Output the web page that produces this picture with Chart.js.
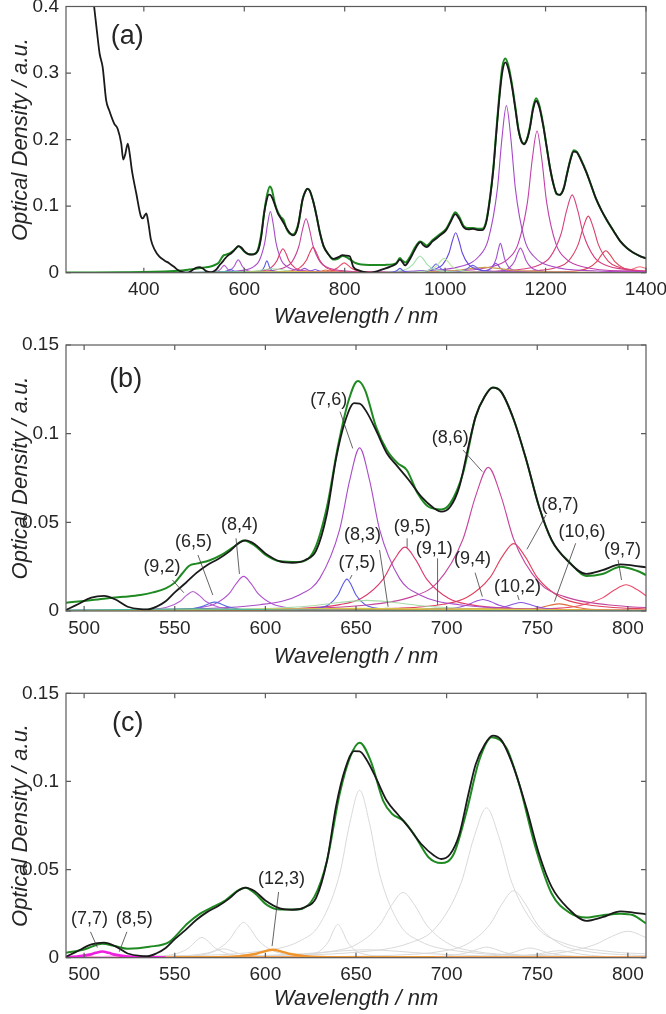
<!DOCTYPE html>
<html>
<head>
<meta charset="utf-8">
<script src="https://cdn.jsdelivr.net/npm/chart.js@4"></script>
<style>
  html, body { margin: 0; background: #fff; }
  #wrap { position: relative; width: 666px; height: 1014px; overflow: hidden; }
  canvas { position: absolute; left: 0; }
</style>
</head>
<body>
<div id="wrap">
  <canvas id="chartA" width="666" height="335" style="top:0px"></canvas>
  <canvas id="chartB" width="666" height="340" style="top:330px"></canvas>
  <canvas id="chartC" width="666" height="354" style="top:660px"></canvas>
</div>
<script>
// ---- ticks ----
const wlTicksA = [400, 600, 800, 1000, 1200, 1400];
const odTicksA = [0, 0.1, 0.2, 0.3, 0.4];
const wlTicksB = [500, 550, 600, 650, 700, 750, 800];
const odTicksB = [0, 0.05, 0.1, 0.15];

// ---- measured spectrum (black) ----
const blackUV = [[290,0.47],[301,0.40],[307,0.36],[312,0.329],[318,0.309],[325,0.259],[331,0.244],[341,0.224],[348,0.216],[355,0.194],[359,0.17],[363,0.178],[368,0.194],[372,0.178],[376,0.155],[385,0.119],[394,0.085],[398,0.0815],[402,0.0865],[405,0.089],[409,0.075],[414,0.05],[422,0.034],[431,0.024],[441,0.0185],[451,0.014],[460,0.009],[468,0.004],[476,0.0012],[483,0.0002]];
const blackVis = [[490,0.0006],[495,0.003],[504,0.0075],[511,0.0085],[517,0.0066],[524,0.0024],[531,0.001],[535,0.0009],[540,0.0025],[545,0.0055],[550,0.0105],[556,0.0158],[562,0.0215],[568,0.026],[574,0.0293],[580,0.0335],[585,0.038],[589,0.0398],[594,0.0378],[600,0.0325],[608,0.028],[615,0.0272],[622,0.0288],[628,0.034],[634,0.055],[639,0.086],[644,0.107],[649,0.1172],[652,0.117],[656,0.112],[661,0.102],[667,0.089],[673,0.0814],[679,0.074],[686,0.0645],[693,0.058],[697,0.056],[702,0.0588],[707,0.070],[712,0.0927],[716,0.1096],[721,0.121],[725.5,0.126],[730,0.1237],[737,0.108],[744,0.085],[751,0.0588],[758,0.040],[767,0.028],[777,0.0209],[786,0.023],[796,0.0263],[803,0.0256],[810,0.0246]];
const blackNIR = [[817,0.009],[828,0.0035],[838,0.0012],[848,0.0002],[858,0.001],[868,0.003],[880,0.006],[892,0.0095],[902,0.013],[910,0.0195],[915,0.016],[920,0.011],[928,0.018],[938,0.032],[946,0.043],[951,0.046],[957,0.041],[963,0.0385],[975,0.047],[990,0.056],[1002,0.064],[1012,0.078],[1020,0.088],[1028,0.081],[1037,0.068],[1046,0.065],[1056,0.066],[1066,0.064],[1074,0.064],[1082,0.076],[1090,0.115],[1096,0.155],[1102,0.21],[1108,0.262],[1114,0.302],[1120,0.316],[1126,0.306],[1133,0.28],[1140,0.245],[1146,0.214],[1152,0.197],[1157,0.193],[1163,0.2],[1169,0.218],[1175,0.245],[1181,0.258],[1187,0.25],[1195,0.222],[1202,0.19],[1209,0.157],[1216,0.132],[1222,0.119],[1228,0.117],[1236,0.126],[1243,0.149],[1250,0.171],[1256,0.182],[1262,0.181],[1270,0.17],[1281,0.151],[1290,0.133],[1300,0.112],[1311,0.094],[1322,0.079],[1336,0.062],[1349,0.047],[1362,0.037],[1375,0.03],[1388,0.025],[1400,0.0215]];

// ---- fitted sum (green) ----
const greenUV = [[245,0.0002],[300,0.0003],[360,0.0006],[420,0.0013],[460,0.0026],[480,0.0038]];
const greenB = [[490,0.0047],[500,0.0057],[512,0.0071],[522,0.008],[531,0.009],[538,0.0105],[545,0.0128],[550,0.016],[554,0.021],[558,0.0255],[562,0.0267],[569,0.0285],[576,0.0318],[583,0.0365],[588,0.0397],[594,0.037],[601,0.031],[608,0.028],[618,0.0276],[627,0.0344],[634,0.0588],[640,0.0927],[646,0.119],[651,0.1297],[655,0.1246],[661,0.104],[667,0.0908],[673,0.0833],[678,0.0795],[684,0.0664],[690,0.0588],[697,0.0573],[702,0.0607],[709,0.0776],[716,0.1096],[721,0.121],[725.5,0.126],[730,0.1237],[737,0.108],[744,0.085],[751,0.0588],[758,0.0397],[768,0.0273],[777,0.0197],[786,0.0209],[796,0.025],[805,0.0227],[810,0.0203]];
const greenNIR = [[818,0.016],[828,0.013],[840,0.0118],[860,0.0115],[880,0.0117],[895,0.0125],[903,0.0145],[910,0.022],[915,0.018],[921,0.0155],[930,0.024],[940,0.038],[950,0.047],[957,0.044],[963,0.041],[975,0.049],[990,0.058],[1002,0.066],[1012,0.08],[1020,0.091],[1028,0.084],[1037,0.07],[1046,0.067],[1056,0.067],[1066,0.066],[1074,0.066],[1082,0.078],[1090,0.117],[1096,0.158],[1102,0.214],[1108,0.268],[1114,0.31],[1120,0.322],[1126,0.311],[1133,0.284],[1140,0.248],[1146,0.216],[1152,0.198],[1157,0.194],[1163,0.201],[1169,0.22],[1175,0.248],[1181,0.262],[1187,0.253],[1195,0.224],[1202,0.19],[1209,0.157],[1216,0.132],[1222,0.118],[1228,0.117],[1236,0.127],[1243,0.15],[1250,0.172],[1256,0.184],[1262,0.182],[1270,0.171],[1281,0.152],[1290,0.133],[1300,0.112],[1311,0.094],[1322,0.079],[1336,0.062],[1349,0.047],[1362,0.037],[1375,0.03],[1388,0.025],[1400,0.0215]];
const greenC = [[490,0.0028],[500,0.0047],[510,0.0079],[517,0.0066],[524,0.0051],[536,0.0062],[547,0.009],[557,0.0194],[564,0.025],[571,0.0288],[578,0.0326],[585,0.0382],[589,0.0397],[594,0.0367],[601,0.0298],[608,0.0273],[618,0.0273],[627,0.0345],[634,0.055],[641,0.093],[647,0.1145],[652,0.122],[658,0.112],[665,0.089],[670,0.0815],[676,0.0778],[682,0.070],[690,0.057],[697,0.0537],[704,0.059],[711,0.083],[718,0.112],[725,0.125],[733,0.119],[740,0.0985],[749,0.0627],[758,0.0363],[768,0.0254],[777,0.0228],[786,0.0241],[796,0.025],[803,0.0241],[810,0.0194]];

// ---- fitted components, 490-810 nm (panels a, b) ----
const p92 = [[490,0.0001],[525,0.00042],[539,0.0011],[546,0.0022],[553,0.0055],[556.5,0.0088],[560,0.011],[563.5,0.0088],[567,0.0055],[574,0.0022],[581,0.0011],[595,0.00042],[630,0.0001],[810,0.00001]];
const p65 = [[502,0.00005],[537,0.0002],[551,0.0005],[558,0.001],[565,0.0025],[568.5,0.004],[572,0.005],[575.5,0.004],[579,0.0025],[586,0.001],[593,0.0005],[607,0.0002],[642,0.00005]];
const p84 = [[490,0.0001],[508,0.0002],[548,0.00075],[564,0.00195],[572,0.0039],[580,0.00975],[584,0.0156],[588,0.0195],[592,0.0156],[596,0.00975],[604,0.0039],[612,0.00195],[628,0.00075],[668,0.0002],[810,0.00004]];
const p75 = [[595,0.00018],[620,0.00069],[630,0.0018],[635,0.0036],[640,0.009],[642.5,0.0144],[645,0.018],[647.5,0.0144],[650,0.009],[655,0.0036],[660,0.0018],[670,0.00069],[695,0.00018]];
const p76 = [[245,0.00007],[400,0.00017],[490,0.00042],[542,0.00091],[597,0.00354],[619,0.0092],[630,0.0184],[641,0.046],[646.5,0.0736],[652,0.092],[657.5,0.0736],[663,0.046],[674,0.0184],[685,0.0092],[707,0.00354],[762,0.00091],[810,0.00044],[900,0.00018],[1100,0.00006]];
const p83 = [[607,0.00006],[631,0.00015],[643,0.0003],[655,0.00075],[661,0.0012],[667,0.0015],[673,0.0012],[679,0.00075],[691,0.0003],[703,0.00015],[727,0.00006]];
const p95 = [[490,0.00015],[557,0.00036],[617,0.00138],[641,0.0036],[653,0.0072],[665,0.018],[671,0.0288],[677,0.036],[683,0.0288],[689,0.018],[701,0.0072],[713,0.0036],[737,0.00138],[797,0.00036],[900,0.0001]];
const p91 = [[644,0.00006],[664,0.00015],[674,0.0003],[684,0.00075],[689,0.0012],[694,0.0015],[699,0.0012],[704,0.00075],[714,0.0003],[724,0.00015],[744,0.00006]];
const p86 = [[490,0.00029],[583,0.0008],[653,0.00312],[681,0.0081],[695,0.0162],[709,0.0405],[716,0.0648],[723,0.081],[730,0.0648],[737,0.0405],[751,0.0162],[765,0.0081],[793,0.00312],[863,0.0008],[1000,0.0002]];
const p94 = [[630,0.00008],[675,0.00025],[693,0.00065],[702,0.0013],[711,0.00325],[715.5,0.0052],[720,0.0065],[724.5,0.0052],[729,0.00325],[738,0.0013],[747,0.00065],[765,0.00025],[810,0.00008]];
const p87 = [[490,0.0001],[607,0.00038],[672,0.00146],[698,0.0038],[711,0.0076],[724,0.019],[730.5,0.0304],[737,0.038],[743.5,0.0304],[750,0.019],[763,0.0076],[776,0.0038],[802,0.00146],[867,0.00038],[1000,0.0001]];
const p102 = [[696,0.00018],[714,0.00048],[723,0.00096],[732,0.0024],[736.5,0.0038],[741,0.0048],[745.5,0.0038],[750,0.0024],[759,0.00096],[768,0.00048],[786,0.00018]];
const p106 = [[712,0.00015],[732,0.0004],[742,0.0008],[752,0.002],[757,0.0032],[762,0.004],[767,0.0032],[772,0.002],[782,0.0008],[792,0.0004],[812,0.00015]];
const p97 = [[669,0.00015],[734,0.00057],[760,0.00148],[773,0.003],[786,0.0074],[792.5,0.0118],[799,0.0148],[805.5,0.0118],[812,0.0074],[825,0.003],[838,0.00148],[864,0.00057],[929,0.00015]];
const pBroad = [[490,0.0002],[566,0.00062],[596,0.0012],[626,0.003],[641,0.0048],[656,0.006],[671,0.0048],[686,0.003],[716,0.0012],[746,0.00062],[810,0.0002]];
const pYel = [[245,0.0001],[490,0.0003],[570,0.00075],[610,0.0012],[650,0.0015],[690,0.0012],[730,0.00075],[810,0.0003],[1000,0.0001],[1400,0.0001]];
const pOrg = [[245,0.0001],[490,0.0002],[580,0.0003],[650,0.0006],[720,0.0012],[790,0.0006],[900,0.0002],[1100,0.0005],[1400,0.0002]];
const pTeal = [[245,0.0001],[490,0.0005],[520,0.0008],[560,0.0012],[620,0.0006],[700,0.0002],[810,0.0001]];

// ---- fitted components, NIR (panel a) ----
const n910 = [[850,0.00006],[880,0.00025],[892,0.00065],[898,0.0013],[904,0.00325],[907,0.0052],[910,0.0065],[913,0.0052],[916,0.00325],[922,0.0013],[928,0.00065],[940,0.00025],[970,0.00006]];
const n950 = [[810,0.00025],[880,0.00096],[908,0.0025],[922,0.005],[936,0.0125],[943,0.02],[950,0.025],[957,0.02],[964,0.0125],[978,0.005],[992,0.0025],[1020,0.00096],[1090,0.00025]];
const n998 = [[858,0.0002],[928,0.00083],[956,0.00215],[970,0.0043],[984,0.01075],[991,0.0172],[998,0.0215],[1005,0.0172],[1012,0.01075],[1026,0.0043],[1040,0.00215],[1068,0.00083],[1138,0.0002]];
const n982 = [[892,0.00013],[937,0.0005],[955,0.0013],[964,0.0026],[973,0.0065],[977.5,0.0104],[982,0.013],[986.5,0.0104],[991,0.0065],[1000,0.0026],[1009,0.0013],[1027,0.0005],[1072,0.00013]];
const n1021 = [[891,0.0006],[956,0.0023],[982,0.006],[995,0.012],[1008,0.03],[1014.5,0.048],[1021,0.06],[1027.5,0.048],[1034,0.03],[1047,0.012],[1060,0.006],[1086,0.0023],[1151,0.0006],[1300,0.0002]];
const n1055 = [[935,0.00011],[995,0.00042],[1019,0.0011],[1031,0.0022],[1043,0.0055],[1049,0.0088],[1055,0.011],[1061,0.0088],[1067,0.0055],[1079,0.0022],[1091,0.0011],[1115,0.00042],[1175,0.00011]];
const n1080 = [[900,0.0005],[980,0.002],[1030,0.004],[1055,0.0065],[1080,0.008],[1105,0.0065],[1130,0.004],[1180,0.002],[1300,0.0006]];
const n1101 = [[1011,0.00014],[1056,0.00054],[1074,0.0014],[1083,0.0028],[1092,0.007],[1096.5,0.0112],[1101,0.014],[1105.5,0.0112],[1110,0.007],[1119,0.0028],[1128,0.0014],[1146,0.00054],[1191,0.00014]];
const n1110 = [[1030,0.00044],[1070,0.0017],[1086,0.0044],[1094,0.0088],[1102,0.022],[1106,0.0352],[1110,0.044],[1114,0.0352],[1118,0.022],[1126,0.0088],[1134,0.0044],[1150,0.0017],[1190,0.00044]];
const n1122 = [[844,0.00081],[942,0.00248],[1032,0.00966],[1068,0.0251],[1086,0.0502],[1104,0.1255],[1113,0.2008],[1122,0.251],[1131,0.2008],[1140,0.1255],[1158,0.0502],[1176,0.0251],[1212,0.00966],[1302,0.00248],[1400,0.001]];
const n1150 = [[1040,0.00037],[1095,0.0014],[1117,0.0037],[1128,0.0074],[1139,0.0185],[1144.5,0.0296],[1150,0.037],[1155.5,0.0296],[1161,0.0185],[1172,0.0074],[1183,0.0037],[1205,0.0014],[1260,0.00037]];
const n1183 = [[903,0.00068],[993,0.0021],[1088,0.0082],[1126,0.0213],[1145,0.0426],[1164,0.1065],[1173.5,0.1704],[1183,0.213],[1192.5,0.1704],[1202,0.1065],[1221,0.0426],[1240,0.0213],[1278,0.0082],[1373,0.0021],[1400,0.0016]];
const n1253 = [[1033,0.00116],[1143,0.0045],[1187,0.0117],[1209,0.0234],[1231,0.0585],[1242,0.0936],[1253,0.117],[1264,0.0936],[1275,0.0585],[1297,0.0234],[1319,0.0117],[1363,0.0045],[1400,0.0025]];
const n1285 = [[1085,0.00084],[1185,0.00327],[1225,0.0085],[1245,0.017],[1265,0.0425],[1275,0.068],[1285,0.085],[1295,0.068],[1305,0.0425],[1325,0.017],[1345,0.0085],[1385,0.00327],[1400,0.0024]];
const n1320 = [[1140,0.00033],[1230,0.00127],[1266,0.0033],[1284,0.0066],[1302,0.0165],[1311,0.0264],[1320,0.033],[1329,0.0264],[1338,0.0165],[1356,0.0066],[1374,0.0033],[1400,0.0016]];
const n1388 = [[1208,0.00009],[1298,0.00035],[1334,0.0009],[1352,0.0018],[1370,0.0045],[1379,0.0072],[1388,0.009],[1397,0.0072],[1400,0.0066]];

// ---- panel c: refit components (grey) + the added species ----
const g565 = [[495,0.0001],[530,0.00044],[544,0.00115],[551,0.0023],[558,0.00575],[561.5,0.0092],[565,0.0115],[568.5,0.0092],[572,0.00575],[579,0.0023],[586,0.00115],[600,0.00044],[635,0.0001]];
const g577 = [[537,0.00019],[553,0.0005],[561,0.001],[569,0.0025],[573,0.004],[577,0.005],[581,0.004],[585,0.0025],[593,0.001],[601,0.0005],[617,0.00019]];
const g588 = [[508,0.0002],[548,0.00077],[564,0.002],[572,0.004],[580,0.01],[584,0.016],[588,0.02],[592,0.016],[596,0.01],[604,0.004],[612,0.002],[628,0.00077],[668,0.0002]];
const g640 = [[590,0.00019],[615,0.00073],[625,0.0019],[630,0.0038],[635,0.0095],[637.5,0.0152],[640,0.019],[642.5,0.0152],[645,0.0095],[650,0.0038],[655,0.0019],[665,0.00073],[690,0.00019]];
const g652 = [[490,0.00043],[542,0.00094],[597,0.00366],[619,0.0095],[630,0.019],[641,0.0475],[646.5,0.076],[652,0.095],[657.5,0.076],[663,0.0475],[674,0.019],[685,0.0095],[707,0.00366],[762,0.00094],[810,0.00046]];
const g676 = [[546,0.00037],[611,0.00142],[637,0.0037],[650,0.0074],[663,0.0185],[669.5,0.0296],[676,0.037],[682.5,0.0296],[689,0.0185],[702,0.0074],[715,0.0037],[741,0.00142],[806,0.00037]];
const g722 = [[582,0.00084],[652,0.00327],[680,0.0085],[694,0.017],[708,0.0425],[715,0.068],[722,0.085],[729,0.068],[736,0.0425],[750,0.017],[764,0.0085],[792,0.00327],[810,0.0022]];
const g737 = [[607,0.00038],[672,0.00146],[698,0.0038],[711,0.0076],[724,0.019],[730.5,0.0304],[737,0.038],[743.5,0.0304],[750,0.019],[763,0.0076],[776,0.0038],[802,0.00146],[810,0.0012]];
const g722s = [[672,0.00023],[692,0.0006],[702,0.0012],[712,0.003],[717,0.0048],[722,0.006],[727,0.0048],[732,0.003],[742,0.0012],[752,0.0006],[772,0.00023]];
const g746 = [[696,0.00021],[716,0.00055],[726,0.0011],[736,0.00275],[741,0.0044],[746,0.0055],[751,0.0044],[756,0.00275],[766,0.0011],[776,0.00055],[796,0.00021]];
const g762 = [[702,0.00016],[726,0.0004],[738,0.0008],[750,0.002],[756,0.0032],[762,0.004],[768,0.0032],[774,0.002],[786,0.0008],[798,0.0004],[810,0.00025]];
const g800 = [[656,0.00015],[710,0.00057],[746,0.0015],[764,0.003],[782,0.0075],[791,0.012],[800,0.015],[810,0.0115]];
const gBroad = [[490,0.00019],[551,0.0004],[586,0.0009],[621,0.00225],[638.5,0.0036],[656,0.0045],[673.5,0.0036],[691,0.00225],[726,0.0009],[761,0.0004],[810,0.0002]];
const p77 = [[475,0.000135],[489,0.00035],[496,0.0007],[503,0.00175],[506.5,0.0028],[510,0.0035],[513.5,0.0028],[517,0.00175],[524,0.0007],[531,0.00035],[545,0.000135]];
const p85 = [[489,0.0001],[499,0.0002],[509,0.0005],[514,0.0008],[519,0.001],[524,0.0008],[529,0.0005],[539,0.0002],[549,0.0001]];
const p123 = [[514,0.00004],[559,0.00017],[577,0.00045],[586,0.0009],[595,0.00225],[599.5,0.0036],[604,0.0045],[608.5,0.0036],[613,0.00225],[622,0.0009],[631,0.00045],[649,0.00017],[694,0.00004]];
const pOrgC = [[490,0.0004],[650,0.0006],[810,0.0004]];
const pPinkC = [[490,0.0002],[810,0.0002]];

// ---- labels: text, text x/y, then leader line from x1/y1 to x2/y2 (data units) ----
const notesB = [
  ['(9,2)', 542.9, 0.025, 548.7, 0.0175, 555, 0.0103],
  ['(6,5)', 560.4, 0.039, 562.8, 0.0316, 571, 0.009],
  ['(8,4)', 585.7, 0.0485, 583.8, 0.041, 585.7, 0.0209],
  ['(7,6)', 634.9, 0.119, 641.2, 0.1124, 648.2, 0.0917],
  ['(8,3)', 653.6, 0.0429, 663, 0.0344, 667.7, 0.0024],
  ['(7,5)', 650.6, 0.0269, 647.8, 0.0203, 646.6, 0.0179],
  ['(9,5)', 681, 0.0472, 678.2, 0.041, 678.2, 0.0357],
  ['(9,1)', 693.2, 0.0348, 695, 0.0297, 695, 0.0034],
  ['(9,4)', 714.3, 0.0295, 715.7, 0.0216, 719.7, 0.0081],
  ['(8,6)', 702, 0.0974, 709, 0.0908, 719.7, 0.0786],
  ['(8,7)', 762.5, 0.0598, 754.8, 0.0541, 744.3, 0.0348],
  ['(10,6)', 774.7, 0.0447, 771.2, 0.0382, 759.5, 0.0053],
  ['(10,2)', 739.1, 0.0137, 739.1, 0.009, 740, 0.0062],
  ['(9,7)', 797, 0.0344, 794.6, 0.0288, 796.5, 0.0175]
];
const notesC = [
  ['(7,7)', 503, 0.0222, 503.5, 0.0147, 507.3, 0.0058],
  ['(8,5)', 527.6, 0.0222, 523.6, 0.0147, 519.4, 0.0034],
  ['(12,3)', 608.9, 0.0448, 607.3, 0.0373, 603.7, 0.0066]
];

const FAMILY = "'Liberation Sans', Arial, Helvetica, sans-serif";
const INK = '#262626';
const BLACK = '#1a1a1a';
const GREEN = '#1f8a22';
const GREY = '#d9d9d9';

// components in panels a/b with their line colours
const visComps = [
  [pTeal, '#4cb89c'], [pYel, '#d8c84a'], [pOrg, '#e8962e'], [pBroad, '#a8dca8'],
  [p92, '#b560d0'], [p65, '#5a6de0'], [p84, '#b050d0'], [p75, '#5a5ae6'], [p76, '#a94cc8'],
  [p83, '#9a9a50'], [p95, '#dc3a6c'], [p91, '#6080c0'], [p86, '#c4449c'], [p94, '#9a4ed8'],
  [p87, '#e0405c'], [p102, '#8a52e0'], [p106, '#e06a3a'], [p97, '#ea4c6a']
];
const nirComps = [
  [n910, '#5b5be6'], [n950, '#9fe0aa'], [n998, '#b8e8a0'], [n982, '#6a6ae8'], [n1021, '#6848e0'],
  [n1055, '#7060e0'], [n1080, '#c8a050'], [n1101, '#8850e0'], [n1110, '#a050d0'], [n1122, '#a848c8'],
  [n1150, '#b050c8'], [n1183, '#c040a8'], [n1253, '#d84080'], [n1285, '#d8406a'], [n1320, '#e04858'],
  [n1388, '#f07080']
];
const greyComps = [g565, g577, g588, g640, g652, g676, g722, g737, g722s, g746, g762, g800, gBroad];

function line(points, color, width, order) {
  return {
    data: points, borderColor: color, borderWidth: width, order,
    pointRadius: 0, fill: false, cubicInterpolationMode: 'monotone'
  };
}

// box, inward ticks, labels with leader lines, panel letter
const framePlugin = {
  id: 'frame',
  afterDatasetsDraw(chart, args, opts) {
    const { ctx, chartArea: a, scales: { x, y } } = chart;
    ctx.save();
    ctx.strokeStyle = '#5a5a5a';
    ctx.lineWidth = 1.2;
    ctx.strokeRect(a.left, a.top, a.right - a.left, a.bottom - a.top);
    ctx.beginPath();
    x.ticks.forEach(t => {
      const px = x.getPixelForValue(t.value);
      ctx.moveTo(px, a.bottom); ctx.lineTo(px, a.bottom - 5);
      ctx.moveTo(px, a.top); ctx.lineTo(px, a.top + 5);
    });
    y.ticks.forEach(t => {
      const py = y.getPixelForValue(t.value);
      ctx.moveTo(a.left, py); ctx.lineTo(a.left + 5, py);
      ctx.moveTo(a.right, py); ctx.lineTo(a.right - 5, py);
    });
    ctx.stroke();

    ctx.strokeStyle = '#3c3c3c';
    ctx.lineWidth = 0.8;
    ctx.fillStyle = INK;
    ctx.textAlign = 'center';
    ctx.textBaseline = 'middle';
    ctx.font = `18px ${FAMILY}`;
    (opts.notes || []).forEach(([txt, tx, ty, x1, y1, x2, y2]) => {
      ctx.beginPath();
      ctx.moveTo(x.getPixelForValue(x1), y.getPixelForValue(y1));
      ctx.lineTo(x.getPixelForValue(x2), y.getPixelForValue(y2));
      ctx.stroke();
      ctx.fillText(txt, x.getPixelForValue(tx), y.getPixelForValue(ty));
    });
    ctx.font = `27px ${FAMILY}`;
    ctx.fillText(opts.tag, x.getPixelForValue(opts.tagAt[0]), y.getPixelForValue(opts.tagAt[1]));
    ctx.restore();
  }
};

function panel(id, cfg) {
  const tickFont = { family: FAMILY, size: 19 };
  const titleFont = { family: FAMILY, size: 22, style: 'italic' };
  new Chart(document.getElementById(id), {
    type: 'line',
    data: { datasets: cfg.datasets },
    options: {
      responsive: false,
      animation: false,
      devicePixelRatio: 1,
      layout: { padding: { top: cfg.top, right: 20, left: 0, bottom: 0 } },
      plugins: {
        legend: { display: false },
        tooltip: { enabled: false },
        frame: { notes: cfg.notes, tag: cfg.tag, tagAt: cfg.tagAt }
      },
      scales: {
        x: {
          type: 'linear', min: cfg.xMin, max: cfg.xMax,
          afterBuildTicks: s => { s.ticks = cfg.xTicks.map(v => ({ value: v })); },
          afterFit: s => { s.height = cfg.xHeight; s.paddingLeft = 0; s.paddingRight = 0; },
          grid: { display: false, drawTicks: false },
          border: { display: false },
          ticks: { font: tickFont, color: INK, padding: 6, maxRotation: 0, autoSkip: false, callback: v => String(v) },
          title: { display: true, text: 'Wavelength / nm', font: titleFont, color: INK, padding: { top: 0, bottom: cfg.titlePad } }
        },
        y: {
          type: 'linear', min: 0, max: cfg.yMax,
          afterBuildTicks: s => { s.ticks = cfg.yTicks.map(v => ({ value: v })); },
          afterFit: s => { s.width = 66; s.paddingTop = 0; s.paddingBottom = 0; },
          grid: { display: false, drawTicks: false },
          border: { display: false },
          ticks: { font: tickFont, color: INK, padding: 7, callback: v => String(v) },
          title: { display: true, text: 'Optical Density / a.u.', font: titleFont, color: INK, padding: { top: 8, bottom: 0 } }
        }
      }
    },
    plugins: [framePlugin]
  });
}

const blackA = [...blackUV, ...blackVis, ...blackNIR];
const greenA = [...greenUV, ...greenB, ...greenNIR];

panel('chartA', {
  top: 6.5, xHeight: 62.3, titlePad: 4.8,
  xMin: 245, xMax: 1400, yMax: 0.4, xTicks: wlTicksA, yTicks: odTicksA,
  tag: '(a)', tagAt: [367, 0.355], notes: [],
  datasets: [
    line(blackA, BLACK, 1.8, 0),
    line(greenA, GREEN, 2, 1),
    ...visComps.map(([d, c]) => line(d, c, 1.1, 2)),
    ...nirComps.map(([d, c]) => line(d, c, 1.1, 2))
  ]
});

panel('chartB', {
  top: 15, xHeight: 59, titlePad: 0,
  xMin: 490, xMax: 810, yMax: 0.15, xTicks: wlTicksB, yTicks: odTicksB,
  tag: '(b)', tagAt: [522.9, 0.1303], notes: notesB,
  datasets: [
    line(blackVis, BLACK, 1.8, 0),
    line(greenB, GREEN, 2, 1),
    ...visComps.map(([d, c]) => line(d, c, 1.1, 2))
  ]
});

panel('chartC', {
  top: 33.3, xHeight: 56.3, titlePad: 1.8,
  xMin: 490, xMax: 810, yMax: 0.15, xTicks: wlTicksB, yTicks: odTicksB,
  tag: '(c)', tagAt: [524.1, 0.133], notes: notesC,
  datasets: [
    line(blackVis, BLACK, 1.8, 0),
    line(greenC, GREEN, 2, 1),
    line(p77, '#f020e0', 2.6, 2),
    line(p85, '#f4a6e4', 1.5, 2),
    line(p123, '#f0952e', 2.4, 2),
    line(pOrgC, '#f3a050', 1.5, 3),
    line(pPinkC, '#f0b0d8', 1.5, 3),
    ...greyComps.map(d => line(d, GREY, 1, 4))
  ]
});
</script>
</body>
</html>
